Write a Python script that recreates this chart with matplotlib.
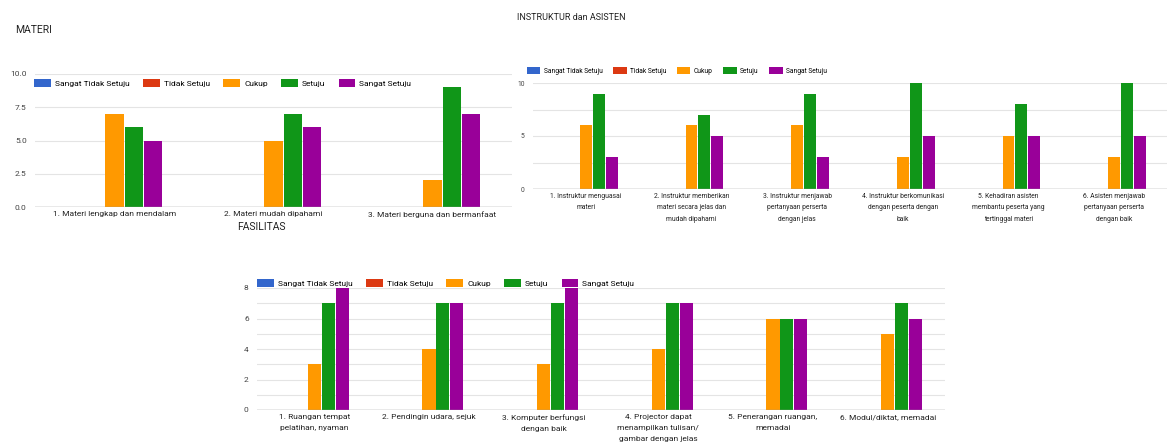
import numpy as np
import matplotlib.pyplot as plt
from matplotlib.ticker import MultipleLocator, FormatStrFormatter

plt.rcParams['font.family'] = ['Roboto', 'DejaVu Sans']

# kategori jawaban dan warna (default google chart)
kategori = ['Sangat Tidak Setuju', 'Tidak Setuju', 'Cukup', 'Setuju', 'Sangat Setuju']
warna = ['#3366cc', '#dc3912', '#ff9900', '#109618', '#990099']

# MATERI
materi_label = ['1. Materi lengkap dan mendalam', '2. Materi mudah dipahami',
                '3. Materi berguna dan bermanfaat']
materi_sts = [0, 0, 0]
materi_ts = [0, 0, 0]
materi_cukup = [7, 5, 2]
materi_setuju = [6, 7, 9]
materi_ss = [5, 6, 7]

# INSTRUKTUR dan ASISTEN
instruktur_label = ['1. Instruktur menguasai\nmateri',
                    '2. Instruktur memberikan\nmateri secara jelas dan\nmudah dipahami',
                    '3. Instruktur menjawab\npertanyaan perserta\ndengan jelas',
                    '4. Instruktur berkomunikasi\ndengan peserta dengan\nbaik',
                    '5. Kehadiran asisten\nmembantu peserta yang\ntertinggal materi',
                    '6. Asisten menjawab\npertanyaan perserta\ndengan baik']
instruktur_sts = [0, 0, 0, 0, 0, 0]
instruktur_ts = [0, 0, 0, 0, 0, 0]
instruktur_cukup = [6, 6, 6, 3, 5, 3]
instruktur_setuju = [9, 7, 9, 10, 8, 10]
instruktur_ss = [3, 5, 3, 5, 5, 5]

# FASILITAS
fasilitas_label = ['1. Ruangan tempat\npelatihan, nyaman',
                   '2. Pendingin udara, sejuk',
                   '3. Komputer berfungsi\ndengan baik',
                   '4. Projector dapat\nmenampilkan tulisan/\ngambar dengan jelas',
                   '5. Penerangan ruangan,\nmemadai',
                   '6. Modul/diktat, memadai']
fasilitas_sts = [0, 0, 0, 0, 0, 0]
fasilitas_ts = [0, 0, 0, 0, 0, 0]
fasilitas_cukup = [3, 4, 3, 4, 6, 5]
fasilitas_setuju = [7, 7, 7, 7, 6, 7]
fasilitas_ss = [8, 7, 8, 7, 6, 6]

W, H = 1167, 445
fig = plt.figure(figsize=(W / 100, H / 100), dpi=100)


def px_rect(left, right, top, bottom):
    return [left / W, 1 - bottom / H, (right - left) / W, (bottom - top) / H]


def grafik(rect, labels, series, ymax, major, minor, fmt, fs, ls, leg_xy, leg_fs, hh):
    ax = fig.add_axes(rect)
    x = np.arange(len(labels))
    w = 0.122
    handles = []
    for i, nilai in enumerate(series):
        b = ax.bar(x + (i - 2) * w, nilai, w * 0.93, color=warna[i], label=kategori[i], zorder=3)
        handles.append(b)
    ax.set_xlim(-0.5, len(labels) - 0.5)
    ax.set_ylim(0, ymax)
    ax.set_xticks(x)
    ax.set_xticklabels(labels, fontsize=fs, color='#222222', linespacing=ls)
    ax.yaxis.set_major_locator(MultipleLocator(major))
    if minor:
        ax.yaxis.set_minor_locator(MultipleLocator(minor))
    ax.yaxis.set_major_formatter(FormatStrFormatter(fmt))
    ax.tick_params(axis='y', labelsize=fs, colors='#444444', length=0, pad=6)
    ax.tick_params(axis='x', length=0, pad=3)
    ax.tick_params(which='minor', length=0)
    ax.grid(axis='y', which='both', color='#e4e4e4', lw=0.8, zorder=0)
    ax.axhline(0, color='#9a9a9a', lw=1, zorder=4)
    for s in ax.spines.values():
        s.set_visible(False)
    fig.legend(handles=handles, loc='center left',
               bbox_to_anchor=(leg_xy[0] / W, 1 - leg_xy[1] / H),
               ncol=5, frameon=False, fontsize=leg_fs, handlelength=2.0,
               handleheight=hh, handletextpad=0.5, columnspacing=1.6,
               borderpad=0, borderaxespad=0)
    return ax


grafik(px_rect(35, 512, 74, 207), materi_label,
       [materi_sts, materi_ts, materi_cukup, materi_setuju, materi_ss],
       10, 2.5, None, '%.1f', 6, 1.3, (34, 83), 6, 1.0)

grafik(px_rect(533, 1167, 83, 189), instruktur_label,
       [instruktur_sts, instruktur_ts, instruktur_cukup, instruktur_setuju, instruktur_ss],
       10, 5, 2.5, '%d', 4.9, 1.85, (527, 71), 4.8, 1.25)

grafik(px_rect(257, 945, 288, 410), fasilitas_label,
       [fasilitas_sts, fasilitas_ts, fasilitas_cukup, fasilitas_setuju, fasilitas_ss],
       8, 2, 1, '%d', 6, 1.95, (257, 283), 6, 1.0)

fig.text(15 / W, 1 - 30 / H, 'MATERI', fontsize=7.5, color='#222222', va='center')
fig.text(517 / W, 1 - 18 / H, 'INSTRUKTUR dan ASISTEN', fontsize=6.5, color='#222222', va='center')
fig.text(237 / W, 1 - 227 / H, 'FASILITAS', fontsize=7.5, color='#222222', va='center')

fig.savefig('out.png', dpi=100)
